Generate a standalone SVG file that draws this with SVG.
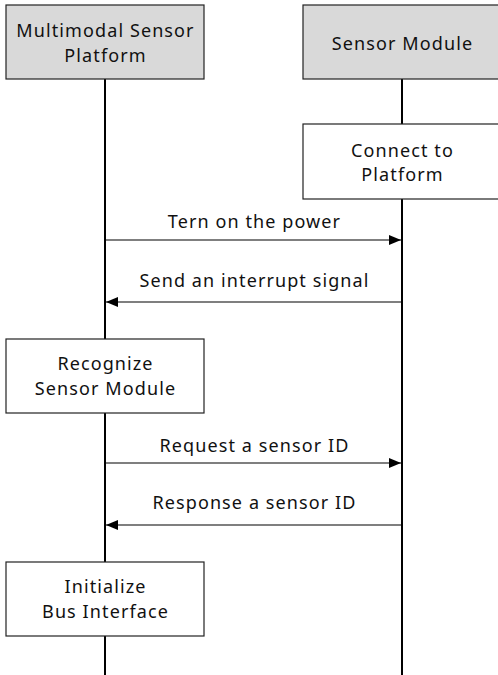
<svg xmlns="http://www.w3.org/2000/svg" width="498" height="675" viewBox="0 0 498 675">
  <style>
    .head { fill: #d9d9d9; stroke: #222; stroke-width: 1.2; }
    .act { fill: #ffffff; stroke: #222; stroke-width: 1.2; }
    .life { stroke: #000; stroke-width: 2; fill: none; }
    .msg { stroke: #000; stroke-width: 1.2; fill: none; }
    text { font-family: "Noto Sans", "Open Sans", sans-serif; font-size: 18px; letter-spacing: 1.1px; fill: #111; text-anchor: middle; }
  </style>
  <defs>
    <marker id="arrow" viewBox="0 0 12 10" refX="12" refY="5" markerWidth="12" markerHeight="10" markerUnits="userSpaceOnUse" orient="auto">
      <path d="M0,0 L12,5 L0,10 Z" fill="#000"/>
    </marker>
  </defs>

  <!-- lifelines -->
  <g id="lifelines">
    <line class="life" x1="105" y1="79" x2="105" y2="675"/>
    <line class="life" x1="402" y1="79" x2="402" y2="675"/>
  </g>

  <!-- participants and activities -->
  <g id="platform">
    <rect class="head" x="6" y="5" width="198" height="74"/>
    <text x="105.5" y="37">Multimodal Sensor</text>
    <text x="105.5" y="62">Platform</text>
  </g>
  <g id="sensor-module">
    <rect class="head" x="303" y="5" width="199" height="74"/>
    <text x="402.5" y="50">Sensor Module</text>
  </g>
  <g id="connect">
    <rect class="act" x="303" y="124" width="199" height="75"/>
    <text x="402.5" y="157">Connect to</text>
    <text x="402.5" y="181">Platform</text>
  </g>
  <g id="recognize">
    <rect class="act" x="6" y="339" width="198" height="74"/>
    <text x="105.5" y="370">Recognize</text>
    <text x="105.5" y="395">Sensor Module</text>
  </g>
  <g id="initialize">
    <rect class="act" x="6" y="562" width="198" height="74"/>
    <text x="105.5" y="593">Initialize</text>
    <text x="105.5" y="618">Bus Interface</text>
  </g>

  <!-- messages -->
  <g id="connectors">
    <line class="msg" x1="106" y1="240" x2="401" y2="240" marker-end="url(#arrow)"/>
    <text x="254.5" y="228">Tern on the power</text>
    <line class="msg" x1="401" y1="302" x2="106" y2="302" marker-end="url(#arrow)"/>
    <text x="254.5" y="287">Send an interrupt signal</text>
    <line class="msg" x1="106" y1="463" x2="401" y2="463" marker-end="url(#arrow)"/>
    <text x="254.5" y="452">Request a sensor ID</text>
    <line class="msg" x1="401" y1="525" x2="106" y2="525" marker-end="url(#arrow)"/>
    <text x="254.5" y="509">Response a sensor ID</text>
  </g>
</svg>
